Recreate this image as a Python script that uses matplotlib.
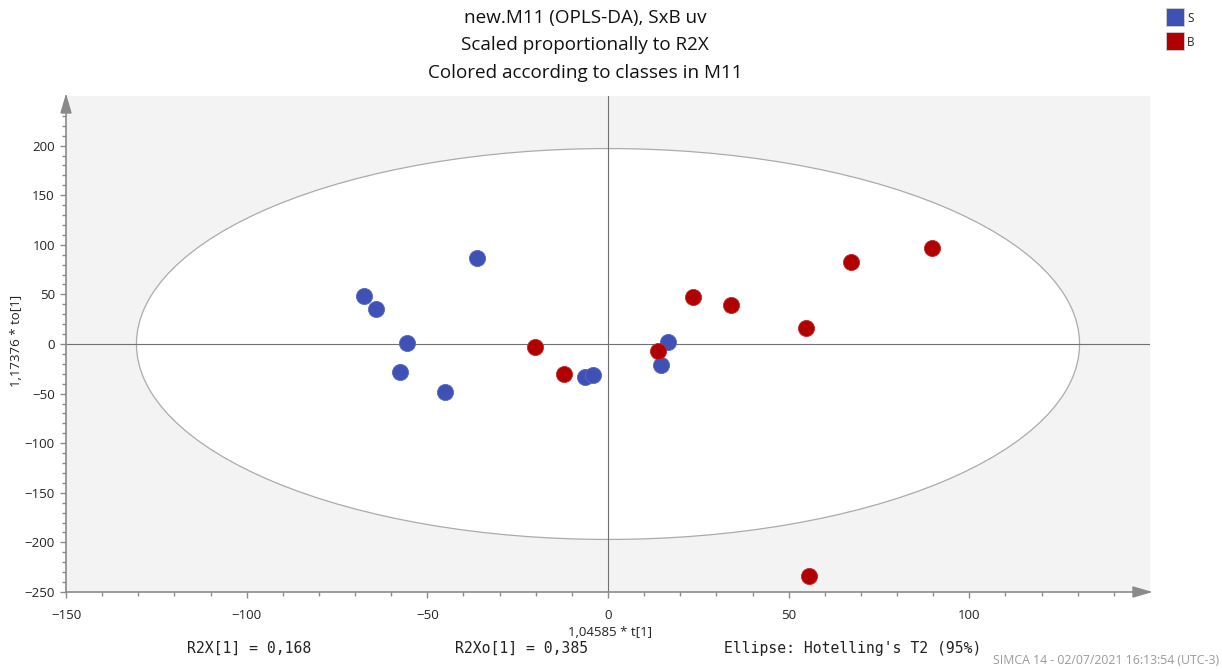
import matplotlib
matplotlib.use("Agg")
import matplotlib.pyplot as plt
from matplotlib.patches import Ellipse, Polygon, Rectangle

# Scores for class S
s_t = [-67.5, -64.2, -55.6, -57.6, -45.1, -36.2, -6.4, -4.2, 16.6, 14.7]
s_to = [48.6, 35.4, 1.0, -28.3, -48.6, 87.0, -33.4, -31.4, 2.0, -21.3]
# Scores for class B
b_t = [-20.2, -12.2, 13.8, 23.5, 34.0, 54.8, 67.2, 89.7, 55.6]
b_to = [-3.0, -30.4, -7.1, 47.6, 39.5, 16.2, 83.0, 97.2, -233.8]

classes = ["S", "B"]
class_colors = ["#3f51b5", "#b00000"]

ellipse_a = 130.5   # Hotelling's T2 (95%) semi-axis along t[1]
ellipse_b = 197.0   # semi-axis along to[1]

title_lines = ["new.M11 (OPLS-DA), SxB uv",
               "Scaled proportionally to R2X",
               "Colored according to classes in M11"]

ui_font = ["Open Sans", "DejaVu Sans"]
mono_font = ["DejaVu Sans Mono"]
axis_gray = "#8a8a8a"

fig = plt.figure(figsize=(12.22, 6.69), dpi=100)
ax = fig.add_axes([66 / 1222, 1 - 592 / 669, (1150 - 66) / 1222, (592 - 96) / 669])
ax.set_facecolor("#f3f3f3")
ax.set_xlim(-150, 150)
ax.set_ylim(-250, 250)

for side in ("top", "right"):
    ax.spines[side].set_visible(False)
for side in ("left", "bottom"):
    ax.spines[side].set_color(axis_gray)
    ax.spines[side].set_linewidth(1.2)

# Hotelling ellipse
ax.add_patch(Ellipse((0, 0), 2 * ellipse_a, 2 * ellipse_b, facecolor="white",
                     edgecolor="#ababab", linewidth=0.9, zorder=1))

# Crosshair through origin
ax.axhline(0, color="#707070", linewidth=0.8, zorder=2)
ax.axvline(0, color="#707070", linewidth=0.8, zorder=2)

# Score points
ax.scatter(s_t, s_to, s=135, color=class_colors[0], edgecolors="#5a6ac0",
           linewidths=0.6, zorder=4)
ax.scatter(b_t, b_to, s=135, color=class_colors[1], edgecolors="#c03030",
           linewidths=0.6, zorder=4)

# Ticks
ax.set_xticks(range(-150, 101, 50))
ax.set_yticks(range(-250, 201, 50))
ax.set_xticks([v for v in range(-150, 141, 10) if v % 50], minor=True)
ax.set_yticks([v for v in range(-250, 231, 10) if v % 50], minor=True)
ax.tick_params(which="major", length=4, width=1, color=axis_gray,
               labelsize=9.5, labelcolor="#222222", pad=4)
ax.tick_params(which="minor", length=3, width=1, color=axis_gray)
ax.tick_params(axis="x", pad=8)
for lbl in ax.get_xticklabels() + ax.get_yticklabels():
    lbl.set_family(ui_font)

# Arrow heads on the axes
w_px = 1150 - 66
h_px = 592 - 96
head_len, head_half = 17, 5
ax.add_patch(Polygon([(1 - head_len / w_px, head_half / h_px), (1, 0),
                      (1 - head_len / w_px, -head_half / h_px)],
                     closed=True, transform=ax.transAxes, clip_on=False,
                     facecolor=axis_gray, edgecolor=axis_gray, zorder=5))
ax.add_patch(Polygon([(-head_half / w_px, 1 - head_len / h_px), (0, 1),
                      (head_half / w_px, 1 - head_len / h_px)],
                     closed=True, transform=ax.transAxes, clip_on=False,
                     facecolor=axis_gray, edgecolor=axis_gray, zorder=5))

# Axis labels
fig.text(610 / 1222, 1 - 632 / 669, "1,04585 * t[1]", ha="center", va="center",
         fontsize=9.5, family=ui_font, color="#222222")
fig.text(17 / 1222, 1 - 341 / 669, "1,17376 * to[1]", ha="center", va="center",
         rotation=90, fontsize=9.5, family=ui_font, color="#222222")

# Title
for i, line in enumerate(title_lines):
    fig.text(585 / 1222, 1 - (18 + 27.5 * i) / 669, line, ha="center", va="center",
             fontsize=13.6, family=ui_font, color="#111111")

# Legend
for i, (name, col) in enumerate(zip(classes, class_colors)):
    y0 = 8 + 24 * i
    fig.patches.append(Rectangle((1166 / 1222, 1 - (y0 + 18) / 669), 18 / 1222, 18 / 669,
                                 transform=fig.transFigure, facecolor=col,
                                 edgecolor="#d0d0d0", linewidth=0.6))
    fig.text(1187 / 1222, 1 - (y0 + 11) / 669, name, ha="left", va="center",
             fontsize=8.5, family=ui_font, color="#222222")

# Model statistics
fig.text(187 / 1222, 1 - 648 / 669, "R2X[1] = 0,168", ha="left", va="center",
         fontsize=10.6, family=mono_font, color="#222222")
fig.text(455 / 1222, 1 - 648 / 669, "R2Xo[1] = 0,385", ha="left", va="center",
         fontsize=10.6, family=mono_font, color="#222222")
fig.text(724 / 1222, 1 - 648 / 669, "Ellipse: Hotelling's T2 (95%)", ha="left",
         va="center", fontsize=10.6, family=mono_font, color="#222222")
fig.text(1219 / 1222, 1 - 660 / 669, "SIMCA 14 - 02/07/2021 16:13:54 (UTC-3)",
         ha="right", va="center", fontsize=8.8, family=ui_font, color="#9a9a9a")

fig.savefig("out.png", dpi=100)
